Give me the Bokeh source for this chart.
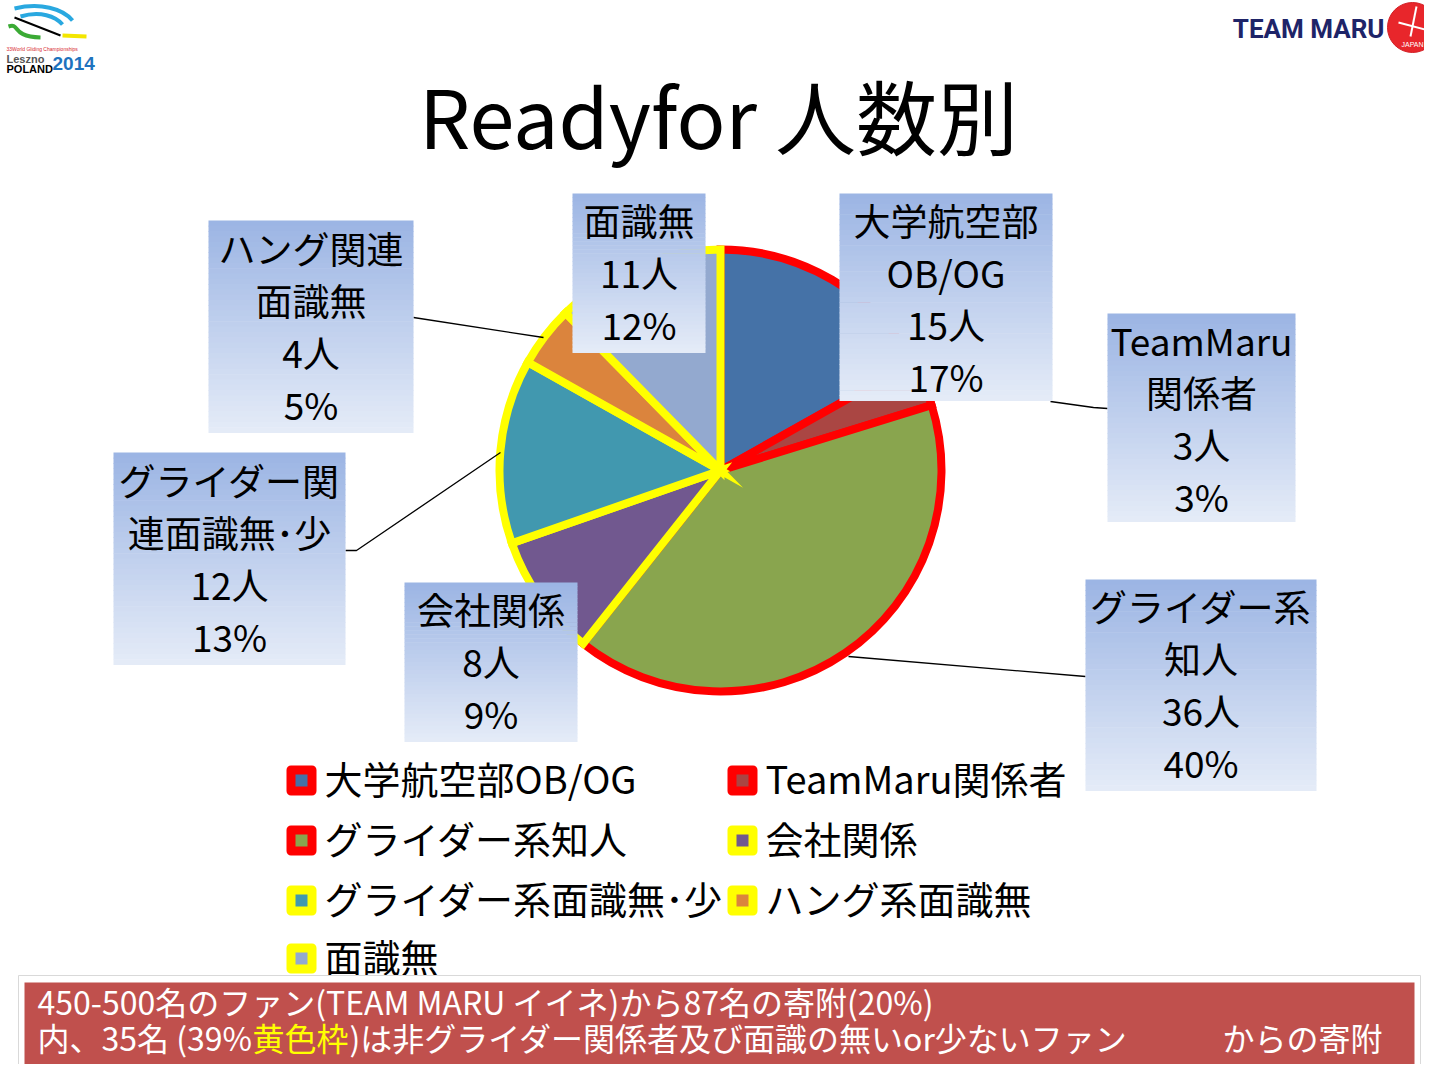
import numpy as np
from bokeh.plotting import figure
from bokeh.models import Range1d, ColumnDataSource
from bokeh.core.properties import value
from bokeh.embed import file_html
from bokeh.resources import INLINE

# ---------------- DATA ----------------
legend_names = ["大学航空部OB/OG", "TeamMaru関係者", "グライダー系知人", "会社関係",
                "グライダー系面識無･少", "ハング系面識無", "面識無"]
box_labels = ["大学航空部\nOB/OG", "TeamMaru\n関係者", "グライダー系\n知人", "会社関係",
              "グライダー関\n連面識無･少", "ハング関連\n面識無", "面識無"]
counts = [15, 3, 36, 8, 12, 4, 11]
percents = [17, 3, 40, 9, 13, 5, 12]
title_text = "Readyfor 人数別"
note_line1 = "450-500名のファン(TEAM MARU イイネ)から87名の寄附(20%)"
note_line2_pre = "内、35名 (39%"
note_line2_hl = "黄色枠"
note_line2_mid = ")は非グライダー関係者及び面識の無いor少ないファン"
note_line2_end = "からの寄附"

# ---------------- STYLE / LAYOUT ----------------
fill_colors = ["#4572A7", "#AA4643", "#89A54E", "#71588F", "#4198AF", "#DB843D", "#93A9CF"]
edge_colors = ["#FF0000", "#FF0000", "#FF0000", "#FFFF00", "#FFFF00", "#FFFF00", "#FFFF00"]
FONT = value("Noto Sans CJK JP")

def fy(sy):
    return 1080 - sy

CX, CY, R = 720, 470, 221

# label boxes: (x0, y0, x1, y1, first_line_center_y) in page pixels
boxes = [
    (839, 193, 1052, 400, 219),
    (1107, 313, 1295, 521, 339),
    (1085, 579, 1316, 790, 605),
    (404, 582, 577, 741, 608),
    (113, 452, 345, 664, 479),
    (208, 220, 413, 432, 247),
    (572, 193, 705, 352, 219),
]
LINE_STEP = 52
leaders = [
    [],
    [(1050, 401), (1093, 407), (1107, 408)],
    [(848, 656), (1085, 676)],
    [],
    [(345, 550), (356, 550), (500, 452)],
    [(413, 317), (543, 337)],
    [],
]
legend_cols = [301, 742]
legend_rows = [780, 840, 900, 958]

p = figure(width=1424, height=1064, x_range=Range1d(0, 1424), y_range=Range1d(16, 1080),
           output_backend="svg", toolbar_location=None, x_axis_location=None,
           y_axis_location=None, min_border=0, background_fill_color="white",
           border_fill_color="white")
p.outline_line_color = None
p.grid.visible = False

# ---------------- PIE ----------------
total = sum(counts)
cum = np.concatenate([[0], np.cumsum(counts)])
start = np.pi / 2 - 2 * np.pi * cum[:-1] / total
end = np.pi / 2 - 2 * np.pi * cum[1:] / total

for group in ("#FF0000", "#FFFF00"):
    idx = [i for i in range(len(counts)) if edge_colors[i] == group]
    src = ColumnDataSource(dict(
        start=[start[i] for i in idx], end=[end[i] for i in idx],
        fill=[fill_colors[i] for i in idx], edge=[edge_colors[i] for i in idx]))
    p.wedge(x=CX, y=fy(CY), radius=R, start_angle="start", end_angle="end",
            direction="clock", fill_color="fill", line_color="edge", line_width=8,
            line_join="miter", source=src)

# ---------------- LEADER LINES ----------------
xs = [[pt[0] for pt in L] for L in leaders if L]
ys = [[fy(pt[1]) for pt in L] for L in leaders if L]
p.multi_line(xs, ys, line_color="black", line_width=1.3)

# ---------------- LABEL BOXES (gradient) ----------------
N = 40
top_c = np.array([156, 181, 228])
bot_c = np.array([228, 235, 247])
ql, qr, qt, qb, qc = [], [], [], [], []
for (x0, y0, x1, y1, _) in boxes:
    h = (y1 - y0) / N
    for k in range(N):
        t = k / (N - 1)
        c = top_c + (bot_c - top_c) * t
        ql.append(x0); qr.append(x1)
        qt.append(fy(y0 + k * h)); qb.append(fy(y0 + (k + 1) * h + 0.6))
        qc.append("#%02x%02x%02x" % tuple(int(round(v)) for v in c))
p.quad(left=ql, right=qr, top=qt, bottom=qb, fill_color=qc, line_color=None)

tx, ty, tt = [], [], []
for i, (x0, y0, x1, y1, fl) in enumerate(boxes):
    lines = box_labels[i].split("\n") + [f"{counts[i]}人", f"{percents[i]}%"]
    for k, s in enumerate(lines):
        tx.append((x0 + x1) / 2)
        ty.append(fy(fl + k * LINE_STEP))
        tt.append(s)
p.text(x=tx, y=ty, text=tt, text_font=FONT, text_font_size="37px",
       text_align="center", text_baseline="middle", text_color="black")

# ---------------- LEGEND ----------------
lx, ly, lt = [], [], []
for i, name in enumerate(legend_names):
    r, c = divmod(i, 2)
    lx.append(legend_cols[c]); ly.append(fy(legend_rows[r])); lt.append(name)
p.scatter(x=lx, y=ly, marker="square", size=21, fill_color=fill_colors,
          line_color=edge_colors, line_width=9, line_join="round")
p.text(x=[x + 23 for x in lx], y=[y + 3 for y in ly], text=lt, text_font=FONT,
       text_font_size="38px", text_align="left", text_baseline="middle", text_color="black")

# ---------------- TITLE ----------------
p.text(x=[718], y=[fy(113)], text=[title_text], text_font=FONT, text_font_size="81px",
       text_align="center", text_baseline="middle", text_color="black")

# ---------------- NOTE BOX ----------------
p.quad(left=[18], right=[1420], top=[fy(975)], bottom=[fy(1082)],
       fill_color="white", line_color="#D9D9D9", line_width=1)
p.quad(left=[24], right=[1414], top=[fy(982)], bottom=[fy(1082)],
       fill_color="#C0504D", line_color=None)
NFS = 32
L1Y, L2Y = 1000, 1036
p.text(x=[37], y=[fy(L1Y)], text=[note_line1], text_font=FONT, text_font_size=f"{NFS}px",
       text_align="left", text_baseline="middle", text_color="white")
HL_X = 252
p.text(x=[37], y=[fy(L2Y)], text=[note_line2_pre], text_font=FONT, text_font_size=f"{NFS}px",
       text_align="left", text_baseline="middle", text_color="white")
p.text(x=[HL_X], y=[fy(L2Y)], text=[note_line2_hl], text_font=FONT, text_font_size=f"{NFS}px",
       text_align="left", text_baseline="middle", text_color="#FFFF00")
p.text(x=[HL_X + 3 * NFS + 1], y=[fy(L2Y)], text=[note_line2_mid], text_font=FONT,
       text_font_size=f"{NFS}px", text_align="left", text_baseline="middle", text_color="white")
p.text(x=[1222], y=[fy(L2Y)], text=[note_line2_end], text_font=FONT,
       text_font_size=f"{NFS}px", text_align="left", text_baseline="middle", text_color="white")

# ---------------- LOGOS ----------------
p.bezier(x0=[14, 20], y0=[fy(8), fy(16)], x1=[72, 62], y1=[fy(20), fy(24)],
         cx0=[40, 40], cy0=[fy(2), fy(10)], cx1=[62, 55], cy1=[fy(8), fy(16)],
         line_color="#29A8E0", line_width=4)
p.bezier(x0=[8], y0=[fy(26)], x1=[40], y1=[fy(37)], cx0=[20], cy0=[fy(22)],
         cx1=[10], cy1=[fy(36)], line_color="#3BAA35", line_width=4)
p.segment(x0=[14], y0=[fy(17)], x1=[60], y1=[fy(35)], line_color="black", line_width=2)
p.segment(x0=[62], y0=[fy(35)], x1=[86], y1=[fy(36)], line_color="#F3E600", line_width=4)
p.text(x=[6], y=[fy(48)], text=["33World Gliding Championships"], text_font=value("Liberation Sans"),
       text_font_size="5px", text_color="#D8282F", text_baseline="middle")
p.text(x=[6, 6], y=[fy(58), fy(68)], text=["Leszno", "POLAND"], text_font=value("Liberation Sans"),
       text_font_size="11px", text_font_style="bold", text_color=["#555555", "black"],
       text_baseline="middle")
p.text(x=[52], y=[fy(63)], text=["2014"], text_font=value("Liberation Sans"),
       text_font_size="19px", text_font_style="bold", text_color="#1E73BE",
       text_baseline="middle")

p.text(x=[1384], y=[fy(28)], text=["TEAM MARU"], text_font=value("Roboto"),
       text_font_size="26px", text_font_style="bold", text_color="#1E2468",
       text_align="right", text_baseline="middle")
p.scatter(x=[1412], y=[fy(27)], marker="circle", size=50, fill_color="#E8262B",
          line_color="#D11E24", line_width=1)
p.segment(x0=[1398, 1416], y0=[fy(22), fy(6)], x1=[1428, 1410], y1=[fy(30), fy(36)],
          line_color="white", line_width=2)
p.text(x=[1412], y=[fy(44)], text=["JAPAN"], text_font=value("Liberation Sans"),
       text_font_size="7px", text_color="white", text_align="center", text_baseline="middle")

open("out.html", "w").write(file_html(p, INLINE))
